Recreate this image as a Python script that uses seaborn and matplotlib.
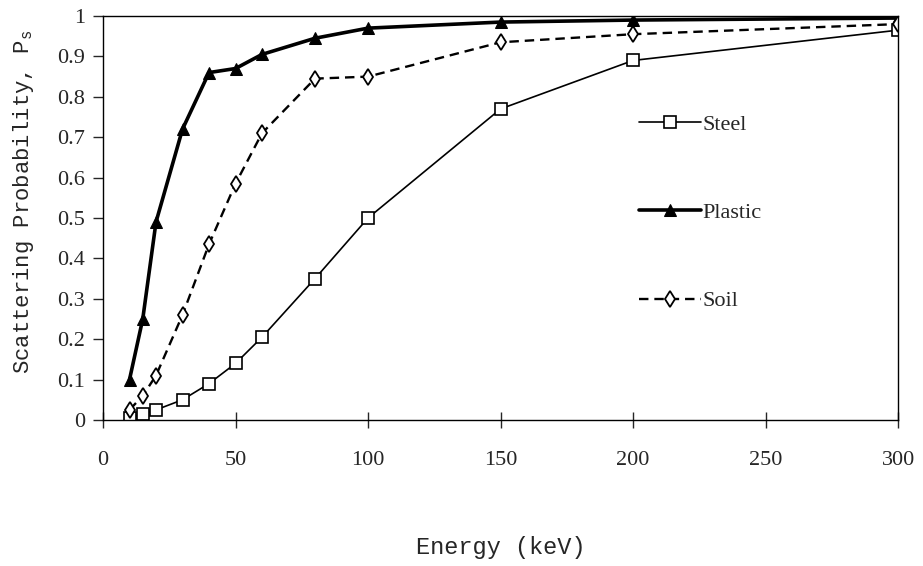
import pandas as pd
import matplotlib.pyplot as plt
import seaborn as sns

# Energy (keV) and scattering probability
energy = [10, 15, 20, 30, 40, 50, 60, 80, 100, 150, 200, 300]
steel = [0.005, 0.015, 0.025, 0.05, 0.09, 0.14, 0.205, 0.35, 0.50, 0.77, 0.89, 0.965]
plastic = [0.10, 0.25, 0.49, 0.72, 0.86, 0.87, 0.905, 0.945, 0.97, 0.985, 0.99, 0.995]
soil = [0.025, 0.06, 0.11, 0.26, 0.435, 0.585, 0.71, 0.845, 0.85, 0.935, 0.955, 0.98]

x_ticks = [0, 50, 100, 150, 200, 250, 300]
y_ticks = [0, 0.1, 0.2, 0.3, 0.4, 0.5, 0.6, 0.7, 0.8, 0.9, 1]
y_tick_labels = ["0", "0.1", "0.2", "0.3", "0.4", "0.5", "0.6", "0.7", "0.8", "0.9", "1"]

sns.set_style("white")
plt.rcParams['font.family'] = ['Liberation Serif', 'DejaVu Serif']
plt.rcParams['mathtext.fontset'] = 'custom'
plt.rcParams['mathtext.rm'] = 'Liberation Mono'

df = pd.DataFrame({"Energy": energy, "Steel": steel, "Plastic": plastic, "Soil": soil})

fig = plt.figure(figsize=(9.23, 5.66), dpi=100)
ax = fig.add_axes([0.1116, 0.258, 0.8614, 0.7137])

sns.lineplot(data=df, x="Energy", y="Steel", ax=ax, color="black", lw=1.2,
             marker="s", markersize=9, markerfacecolor="white", markeredgecolor="black",
             markeredgewidth=1.2, label="Steel")
sns.lineplot(data=df, x="Energy", y="Plastic", ax=ax, color="black", lw=2.6,
             marker="^", markersize=8, markerfacecolor="black", markeredgecolor="black",
             label="Plastic")
sns.lineplot(data=df, x="Energy", y="Soil", ax=ax, color="black", lw=1.7,
             linestyle=(0, (4, 2.5)), marker="d", markersize=8, markerfacecolor="white",
             markeredgecolor="black", markeredgewidth=1.3, label="Soil")

ax.set_xlim(0, 300)
ax.set_ylim(0, 1)
ax.set_xticks(x_ticks)
ax.set_yticks(y_ticks)
ax.set_yticklabels(y_tick_labels)
ax.tick_params(axis="x", direction="inout", length=12, width=1, pad=16, labelsize=16)
ax.tick_params(axis="y", direction="out", length=7, width=1, pad=6, labelsize=16)
ax.tick_params(bottom=True, left=True)

for s in ax.spines.values():
    s.set_color("black")
    s.set_linewidth(1.0)

ax.set_xlabel("Energy (keV)", family="Liberation Mono", fontsize=17, labelpad=48)
ax.set_ylabel("Scattering Probability, P$_\\mathrm{s}$", family="Liberation Mono",
              fontsize=16)
ax.yaxis.set_label_coords(-0.084, 0.54)

leg = ax.legend(loc="center left", bbox_to_anchor=(0.649, 0.513), frameon=False,
                fontsize=16, handlelength=2.8, handletextpad=0.05, labelspacing=3.05)

plt.savefig("out.png", dpi=100)
plt.close()
